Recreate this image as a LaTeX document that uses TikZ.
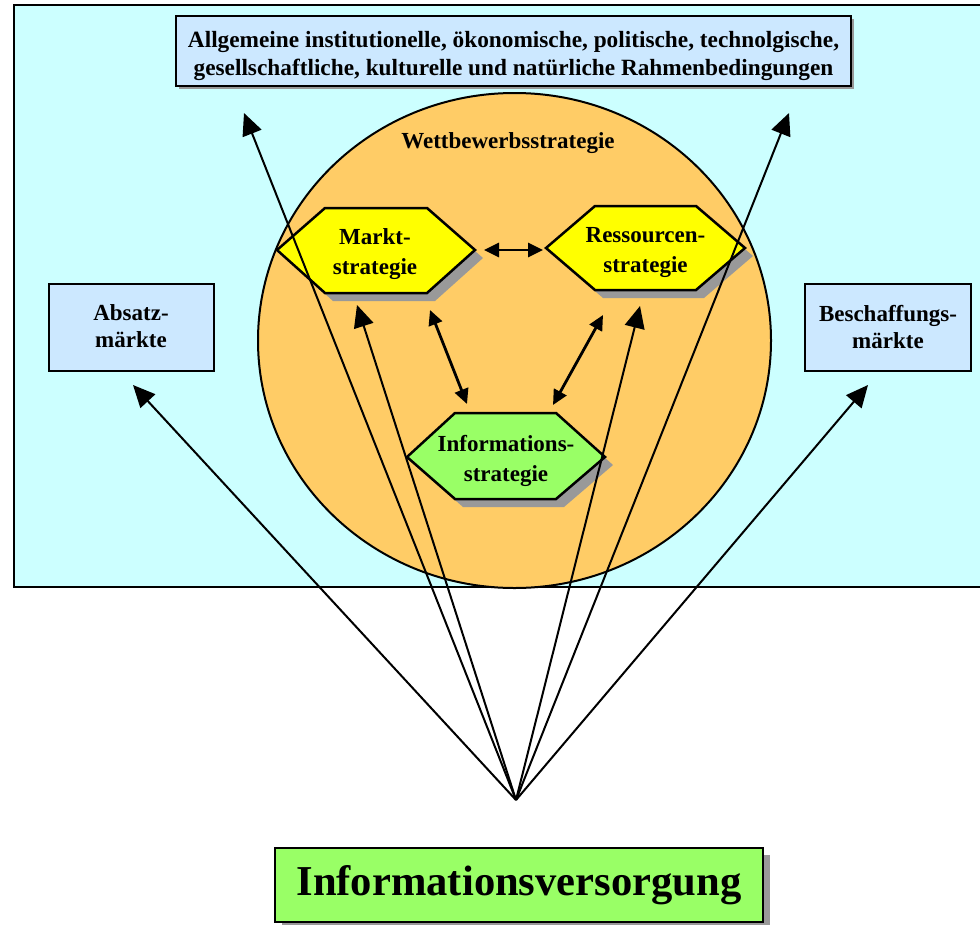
\documentclass[tikz,border=0pt]{standalone}
\usepackage{fontspec}
\setmainfont{Liberation Serif}
\usetikzlibrary{arrows.meta}
\definecolor{frameFill}{HTML}{CCFFFF}
\definecolor{boxFill}{HTML}{CCE8FF}
\definecolor{orbFill}{HTML}{FFCC66}
\definecolor{hexYellow}{HTML}{FFFF00}
\definecolor{hexGreen}{HTML}{99FF66}
\definecolor{shadowGray}{HTML}{999999}
\tikzset{
  infobox/.style={draw=black, line width=2pt, fill=boxFill, inner sep=0pt, align=center,
    font=\fontsize{23}{27}\selectfont\bfseries},
  hexlabel/.style={inner sep=0pt, align=center, font=\fontsize{23}{30}\selectfont\bfseries},
  hexshape/.style={draw=black, line width=2.5pt, line join=miter},
  hexshadow/.style={fill=shadowGray},
  fanarrow/.style={line width=2pt, -{Triangle[length=22pt,width=20pt]}},
  linkarrow/.style={line width=2.8pt, {Triangle[length=15pt,width=14pt]}-{Triangle[length=15pt,width=14pt]}}
}
\begin{document}
\begin{tikzpicture}[x=1pt,y=-1pt]
\useasboundingbox (0,0) rectangle (980,924);
\clip (0,0) rectangle (980,924);
\fill[white] (0,0) rectangle (980,924);

% environment frame
\draw[line width=2pt, fill=frameFill] (14,5) rectangle (990,587);

% general framework conditions
\fill[shadowGray] (179,19) rectangle (854,89);
\node[infobox, minimum width=675pt, minimum height=70pt,
  label={[inner sep=0pt, align=center, yshift=-5pt, font=\fontsize{23.3}{27.5}\selectfont\bfseries]center:
   Allgemeine institutionelle, ökonomische, politische, technolgische,\\
   gesellschaftliche, kulturelle und natürliche Rahmenbedingungen}]
  (rahmen) at (513.5,51) {};

% competitive strategy
\draw[line width=2pt, fill=orbFill] (514.5,340.5) ellipse [x radius=256.5, y radius=247.5];
\node[inner sep=0pt, font=\fontsize{23}{27}\selectfont\bfseries] (wettbewerb) at (508,143) {Wettbewerbsstrategie};

% market side boxes
\node[infobox, minimum width=165pt, minimum height=87pt, text depth=2pt] (absatz) at (131,327.5) {Absatz-\\märkte};
\node[infobox, minimum width=166pt, minimum height=87pt, text depth=2pt] (beschaffung) at (888,327.5) {Beschaffungs-\\märkte};

% hexagons: shadows first
\fill[hexshadow] (285,258) -- (333,216) -- (435,216) -- (483,258) -- (435,301) -- (333,301) -- cycle;
\fill[hexshadow] (554,256) -- (603,214) -- (704,214) -- (753,256) -- (704,298) -- (603,298) -- cycle;
\fill[hexshadow] (415,465) -- (463,421) -- (564,421) -- (613,465) -- (564,507) -- (463,507) -- cycle;

\draw[hexshape, fill=hexYellow] (277,250) -- (325,208) -- (427,208) -- (475,250) -- (427,293) -- (325,293) -- cycle;
\draw[hexshape, fill=hexYellow] (546,248) -- (595,206) -- (696,206) -- (745,248) -- (696,290) -- (595,290) -- cycle;
\draw[hexshape, fill=hexGreen] (407,457) -- (455,413) -- (556,413) -- (605,457) -- (556,499) -- (455,499) -- cycle;

\node[hexlabel] (markt) at (375,254) {Markt-\\strategie};
\node[hexlabel] (ressourcen) at (645.5,253) {Ressourcen-\\strategie};
\node[hexlabel] (information) at (506,461) {Informations-\\strategie};

% information supply
\fill[shadowGray] (282,855) rectangle (770,929);
\node[draw=black, line width=2pt, fill=hexGreen, minimum width=488pt, minimum height=74pt, inner sep=0pt,
  font=\fontsize{42.6}{48}\selectfont\bfseries] (versorgung) at (519,885) {Informationsversorgung};

% arrow anchor points
\coordinate (quelle) at (516,800);
\coordinate (zRahmenL) at (244,113);
\coordinate (zRahmenR) at (789,113);
\coordinate (zAbsatz) at (133,385);
\coordinate (zBeschaffung) at (868,385);
\coordinate (zMarkt) at (357,305);
\coordinate (zRessourcen) at (640,306);

\coordinate (mkR) at (484,250);
\coordinate (rsL) at (543,250);
\coordinate (mkB) at (430,310);
\coordinate (infL) at (467,404);
\coordinate (rsB) at (603,315);
\coordinate (infR) at (553,405);

% information flows
\foreach \t in {zRahmenL,zRahmenR,zAbsatz,zBeschaffung,zMarkt,zRessourcen}
  \draw[fanarrow] (quelle) -- (\t);

% links between the strategies
\draw[linkarrow] (mkR) -- (rsL);
\draw[linkarrow] (mkB) -- (infL);
\draw[linkarrow] (rsB) -- (infR);
\end{tikzpicture}
\end{document}
